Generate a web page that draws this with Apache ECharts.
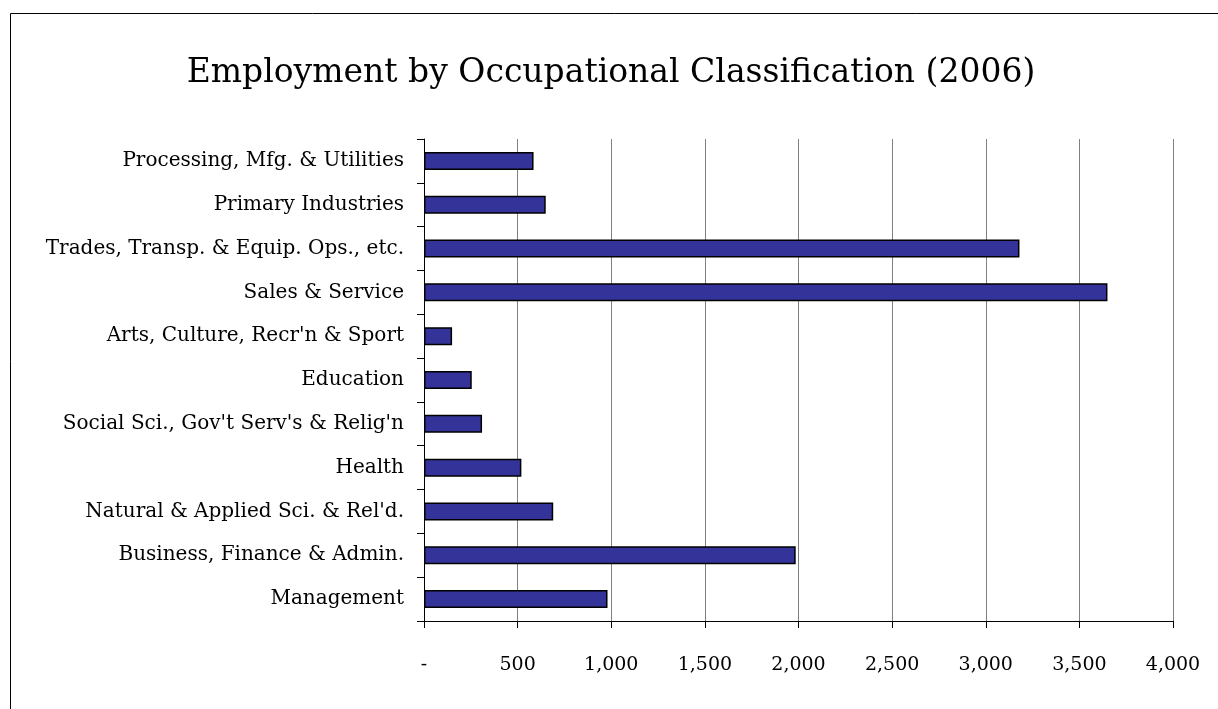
<!DOCTYPE html>
<html>
<head>
<meta charset="utf-8">
<script src="https://cdn.jsdelivr.net/npm/echarts@6/dist/echarts.min.js"></script>
<style>
html,body{margin:0;padding:0;background:#fff;}
#chart{width:1218px;height:709px;}
</style>
</head>
<body>
<div id="chart"></div>
<script>
const categories = [
  "Management",
  "Business, Finance & Admin.",
  "Natural & Applied Sci. & Rel'd.",
  "Health",
  "Social Sci., Gov't Serv's & Relig'n",
  "Education",
  "Arts, Culture, Recr'n & Sport",
  "Sales & Service",
  "Trades, Transp. & Equip. Ops., etc.",
  "Primary Industries",
  "Processing, Mfg. & Utilities"
];
const values = [980, 1985, 690, 520, 310, 255, 150, 3650, 3180, 650, 585];
const titleText = "Employment by Occupational Classification (2006)";

const FONT = "'DejaVu Serif', 'Liberation Serif', serif";
const chart = echarts.init(document.getElementById('chart'));
chart.setOption({
  backgroundColor: '#ffffff',
  animation: false,
  graphic: [{
    type: 'rect',
    shape: {x: 10.5, y: 13.5, width: 1240, height: 740},
    style: {fill: 'none', stroke: '#000', lineWidth: 1}
  }],
  title: {
    text: titleText,
    left: 606, top: 52, textAlign: 'center',
    textStyle: {fontFamily: FONT, fontSize: 33, fontWeight: 'normal', color: '#000'}
  },
  grid: {left: 424, right: 45, top: 139, bottom: 88, containLabel: false},
  xAxis: {
    type: 'value', min: 0, max: 4000, interval: 500,
    axisLine: {show: true, lineStyle: {color: '#000', width: 1}},
    axisTick: {show: true, length: 7, lineStyle: {color: '#000'}},
    splitLine: {show: true, lineStyle: {color: '#808080', width: 1}},
    axisLabel: {
      margin: 35,
      fontFamily: FONT, fontSize: 19, color: '#000',
      formatter: v => v === 0 ? '-' : v.toLocaleString('en-US')
    }
  },
  yAxis: {
    type: 'category', data: categories,
    axisLine: {show: true, lineStyle: {color: '#000', width: 1}},
    axisTick: {show: true, length: 7, interval: 0, lineStyle: {color: '#000'}},
    axisLabel: {margin: 20, fontFamily: FONT, fontSize: 20, color: '#000', interval: 0}
  },
  series: [{
    type: 'bar', data: values, barWidth: 18,
    itemStyle: {color: '#333399', borderColor: '#000', borderWidth: 1.5}
  }]
});
</script>
</body>
</html>
